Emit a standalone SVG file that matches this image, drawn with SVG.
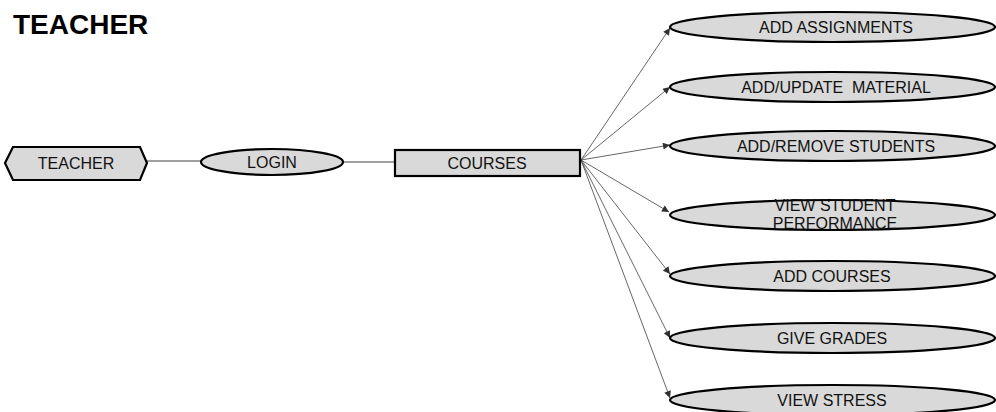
<svg xmlns="http://www.w3.org/2000/svg" width="996" height="412" viewBox="0 0 996 412">
  <style>
    .shape { fill: #d9d9d9; stroke: #000; stroke-width: 2.2; }
    .lbl { font-family: "Liberation Sans", Arial, sans-serif; font-size: 16px; fill: #111; text-anchor: middle; }
    .title { font-family: "Liberation Sans", Arial, sans-serif; font-size: 28px; font-weight: bold; fill: #000; }
    .link { stroke: #404040; stroke-width: 1; fill: none; }
    .arrow { stroke: #404040; stroke-width: 0.8; fill: none; marker-end: url(#head); }
  </style>
  <defs>
    <marker id="head" viewBox="0 0 10 10" refX="10" refY="5" markerWidth="9" markerHeight="7" markerUnits="userSpaceOnUse" orient="auto">
      <path d="M0,0 L10,5 L0,10 z" fill="#303030"/>
    </marker>
  </defs>
  <rect width="996" height="412" fill="#fff"/>

  <text class="title" x="13" y="34">TEACHER</text>

  <g id="connectors">
    <line class="link" x1="147" y1="161" x2="201" y2="161"/>
    <line class="link" x1="343" y1="162" x2="395" y2="162"/>
    <line class="arrow" x1="581" y1="160" x2="670" y2="28"/>
    <line class="arrow" x1="581" y1="160" x2="670" y2="87"/>
    <line class="arrow" x1="581" y1="160" x2="670" y2="145"/>
    <line class="arrow" x1="581" y1="160" x2="669" y2="212"/>
    <line class="arrow" x1="581" y1="160" x2="670" y2="274"/>
    <line class="arrow" x1="581" y1="160" x2="670" y2="338"/>
    <line class="arrow" x1="581" y1="160" x2="670" y2="398"/>
  </g>

  <g id="teacher">
    <polygon class="shape" points="5,163 13,147 140,147 147,163 140,180 13,180"/>
    <text class="lbl" x="76" y="168.5">TEACHER</text>
  </g>
  <g id="login">
    <ellipse class="shape" cx="272" cy="162" rx="71" ry="13"/>
    <text class="lbl" x="272" y="168">LOGIN</text>
  </g>
  <g id="courses">
    <rect class="shape" x="395" y="150" width="185" height="26"/>
    <text class="lbl" x="487" y="168.5">COURSES</text>
  </g>

  <g id="add-assignments">
    <ellipse class="shape" cx="832.5" cy="27" rx="162.5" ry="15"/>
    <text class="lbl" x="836" y="33">ADD ASSIGNMENTS</text>
  </g>
  <g id="add-update-material">
    <ellipse class="shape" cx="832.5" cy="87" rx="162.5" ry="15"/>
    <text class="lbl" x="836" y="93" xml:space="preserve">ADD/UPDATE  MATERIAL</text>
  </g>
  <g id="add-remove-students">
    <ellipse class="shape" cx="832.5" cy="146" rx="162.5" ry="15"/>
    <text class="lbl" x="836" y="152">ADD/REMOVE STUDENTS</text>
  </g>
  <g id="view-student-performance">
    <ellipse class="shape" cx="832.5" cy="215" rx="162.5" ry="15"/>
    <text class="lbl" x="835" y="211">VIEW STUDENT</text>
    <text class="lbl" x="835" y="229">PERFORMANCE</text>
  </g>
  <g id="add-courses">
    <ellipse class="shape" cx="832.5" cy="276" rx="162.5" ry="15"/>
    <text class="lbl" x="832" y="282">ADD COURSES</text>
  </g>
  <g id="give-grades">
    <ellipse class="shape" cx="832.5" cy="338" rx="162.5" ry="15"/>
    <text class="lbl" x="832" y="344">GIVE GRADES</text>
  </g>
  <g id="view-stress">
    <ellipse class="shape" cx="832.5" cy="400" rx="162.5" ry="15"/>
    <text class="lbl" x="832" y="406">VIEW STRESS</text>
  </g>
</svg>
